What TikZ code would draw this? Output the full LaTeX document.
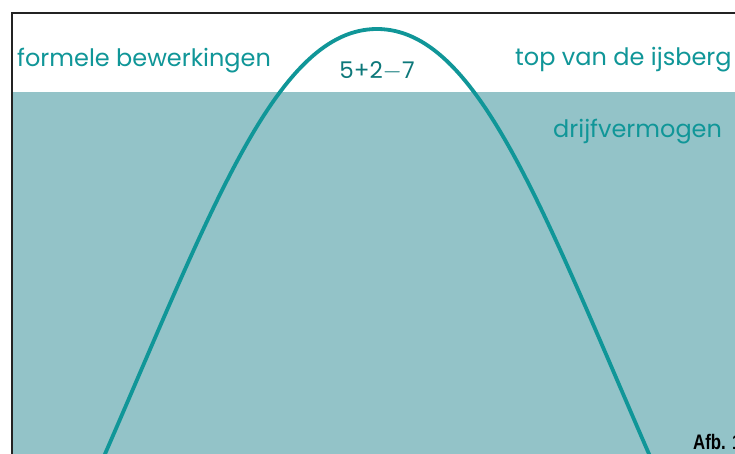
\documentclass[tikz,border=0pt]{standalone}
\usepackage{fontspec}
\setmainfont{Poppins}
\newfontfamily\afbfont{Liberation Sans}
\usetikzlibrary{positioning}
\definecolor{ijsteal}{RGB}{16,150,152}
\definecolor{waterblue}{RGB}{147,195,200}
\definecolor{framegray}{RGB}{35,35,35}
\tikzset{
  labeltext/.style={text=ijsteal, inner sep=0pt, font=\fontsize{24}{24}\selectfont},
  sumtext/.style={text=ijsteal!80!black, inner sep=0pt, font=\fontsize{23}{23}\selectfont}
}

\begin{document}
\begin{tikzpicture}[x=1pt,y=-1pt]
\useasboundingbox (0,0) rectangle (735,454);
\begin{scope}
\clip (0,0) rectangle (735,454);
\fill[white] (0,0) rectangle (735,454);
% water line
\fill[waterblue] (13,92) rectangle (740,460);
\draw[framegray, line width=2.2pt] (12,470) -- (12,13) -- (740,13);
% iceberg
\draw[ijsteal, line width=3.8pt] (95,477) -- (105,454)
  .. controls (212,208) and (277,29) .. (377,29)
  .. controls (477,29) and (542,208) .. (649,454) -- (659,477);
\node[labeltext, anchor=base west] (formeel) at (17,67) {formele bewerkingen};
\node[labeltext, anchor=base west] (topberg) at (515,66) {top van de ijsberg};
\node[labeltext, anchor=base west] (drijf) at (553,138) {drijfvermogen};
\node[sumtext] (som) at (377,71) {5+2$-$7};
\node[anchor=base west, inner sep=0pt, xscale=0.8, font=\afbfont\bfseries\fontsize{21}{21}\selectfont] (afb) at (693,449) {Afb. 1};
\end{scope}
\end{tikzpicture}
\end{document}
